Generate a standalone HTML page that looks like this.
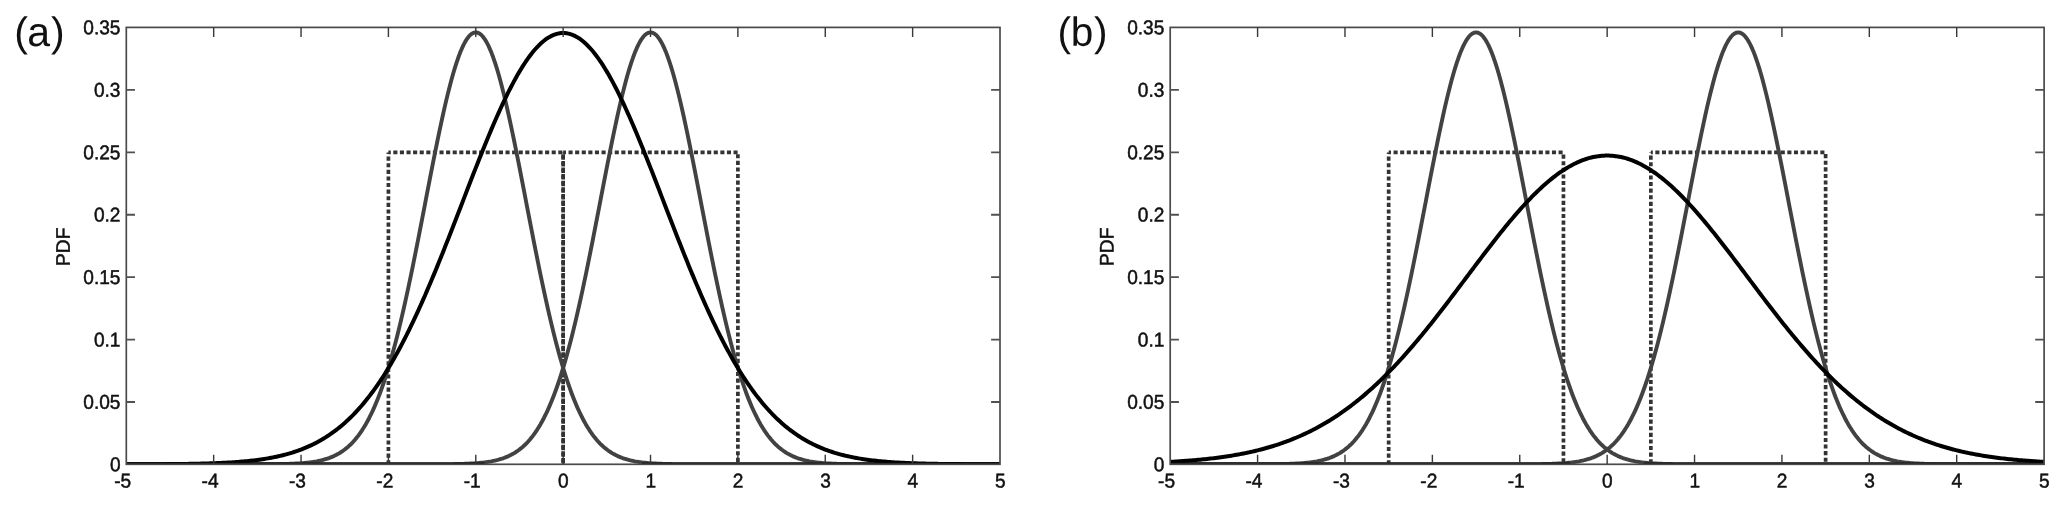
<!DOCTYPE html>
<html><head><meta charset="utf-8"><title>PDF plots</title>
<style>
html,body{margin:0;padding:0;background:#fff;}
body{width:2067px;height:506px;overflow:hidden;}
svg{display:block;will-change:transform;font-family:"Liberation Sans",sans-serif;font-size:19.9px;fill:#111;}
.t text{stroke:#111;stroke-width:0.5px;}
</style></head><body>
<svg width="2067" height="506" viewBox="0 0 2067 506">
<rect width="2067" height="506" fill="#fff"/>
<defs><clipPath id="ca"><rect x="125.6" y="22.4" width="875.1" height="442.65"/></clipPath></defs>
<g clip-path="url(#ca)">
<path d="M388.41,464.3 L388.41,152.38" fill="none" stroke="#333333" stroke-width="3.7" stroke-dasharray="4.1 2.5" stroke-dashoffset="0"/>
<path d="M388.41,152.38 L563.15,152.38" fill="none" stroke="#333333" stroke-width="3.7" stroke-dasharray="4.1 2.5" stroke-dashoffset="1.72"/>
<path d="M563.15,152.38 L563.15,464.3" fill="none" stroke="#333333" stroke-width="3.7" stroke-dasharray="4.1 2.5" stroke-dashoffset="3.26"/>
<path d="M563.15,464.3 L563.15,152.38" fill="none" stroke="#333333" stroke-width="3.7" stroke-dasharray="4.1 2.5" stroke-dashoffset="4.3"/>
<path d="M563.15,152.38 L737.89,152.38" fill="none" stroke="#333333" stroke-width="3.7" stroke-dasharray="4.1 2.5" stroke-dashoffset="1.22"/>
<path d="M737.89,152.38 L737.89,464.3" fill="none" stroke="#333333" stroke-width="3.7" stroke-dasharray="4.1 2.5" stroke-dashoffset="4.76"/>
<path d="M126.3,464.3 L128.05,464.3 L129.79,464.3 L131.54,464.3 L133.29,464.3 L135.04,464.3 L136.78,464.3 L138.53,464.3 L140.28,464.3 L142.03,464.3 L143.77,464.3 L145.52,464.3 L147.27,464.3 L149.02,464.3 L150.76,464.3 L152.51,464.3 L154.26,464.3 L156.01,464.3 L157.75,464.3 L159.5,464.3 L161.25,464.3 L163,464.3 L164.74,464.3 L166.49,464.3 L168.24,464.3 L169.99,464.3 L171.73,464.3 L173.48,464.3 L175.23,464.3 L176.97,464.3 L178.72,464.3 L180.47,464.3 L182.22,464.3 L183.96,464.3 L185.71,464.3 L187.46,464.3 L189.21,464.3 L190.95,464.3 L192.7,464.3 L194.45,464.3 L196.2,464.3 L197.94,464.3 L199.69,464.3 L201.44,464.3 L203.19,464.3 L204.93,464.3 L206.68,464.3 L208.43,464.3 L210.18,464.3 L211.92,464.3 L213.67,464.3 L215.42,464.3 L217.16,464.3 L218.91,464.3 L220.66,464.3 L222.41,464.3 L224.15,464.3 L225.9,464.3 L227.65,464.3 L229.4,464.3 L231.14,464.3 L232.89,464.3 L234.64,464.3 L236.39,464.29 L238.13,464.29 L239.88,464.29 L241.63,464.29 L243.38,464.29 L245.12,464.29 L246.87,464.29 L248.62,464.28 L250.37,464.28 L252.11,464.28 L253.86,464.27 L255.61,464.27 L257.36,464.26 L259.1,464.26 L260.85,464.25 L262.6,464.24 L264.34,464.23 L266.09,464.22 L267.84,464.21 L269.59,464.2 L271.33,464.18 L273.08,464.17 L274.83,464.15 L276.58,464.12 L278.32,464.1 L280.07,464.07 L281.82,464.03 L283.57,464 L285.31,463.95 L287.06,463.91 L288.81,463.85 L290.56,463.79 L292.3,463.72 L294.05,463.64 L295.8,463.56 L297.55,463.46 L299.29,463.35 L301.04,463.23 L302.79,463.09 L304.53,462.94 L306.28,462.77 L308.03,462.59 L309.78,462.38 L311.52,462.15 L313.27,461.89 L315.02,461.61 L316.77,461.3 L318.51,460.95 L320.26,460.57 L322.01,460.16 L323.76,459.7 L325.5,459.19 L327.25,458.64 L329,458.04 L330.75,457.38 L332.49,456.66 L334.24,455.87 L335.99,455.02 L337.74,454.09 L339.48,453.08 L341.23,451.98 L342.98,450.8 L344.73,449.52 L346.47,448.14 L348.22,446.65 L349.97,445.04 L351.71,443.32 L353.46,441.47 L355.21,439.48 L356.96,437.35 L358.7,435.08 L360.45,432.65 L362.2,430.07 L363.95,427.31 L365.69,424.38 L367.44,421.27 L369.19,417.98 L370.94,414.49 L372.68,410.8 L374.43,406.91 L376.18,402.81 L377.93,398.5 L379.67,393.97 L381.42,389.21 L383.17,384.23 L384.92,379.03 L386.66,373.59 L388.41,367.93 L390.16,362.03 L391.9,355.9 L393.65,349.54 L395.4,342.95 L397.15,336.14 L398.89,329.11 L400.64,321.87 L402.39,314.42 L404.14,306.77 L405.88,298.92 L407.63,290.89 L409.38,282.69 L411.13,274.33 L412.87,265.83 L414.62,257.19 L416.37,248.44 L418.12,239.58 L419.86,230.64 L421.61,221.64 L423.36,212.6 L425.11,203.53 L426.85,194.46 L428.6,185.4 L430.35,176.39 L432.1,167.44 L433.84,158.59 L435.59,149.84 L437.34,141.24 L439.08,132.79 L440.83,124.54 L442.58,116.49 L444.33,108.69 L446.07,101.14 L447.82,93.88 L449.57,86.92 L451.32,80.3 L453.06,74.03 L454.81,68.13 L456.56,62.62 L458.31,57.53 L460.05,52.87 L461.8,48.65 L463.55,44.89 L465.3,41.61 L467.04,38.81 L468.79,36.5 L470.54,34.7 L472.29,33.41 L474.03,32.64 L475.78,32.38 L477.53,32.64 L479.27,33.41 L481.02,34.7 L482.77,36.5 L484.52,38.81 L486.26,41.61 L488.01,44.89 L489.76,48.65 L491.51,52.87 L493.25,57.53 L495,62.62 L496.75,68.13 L498.5,74.03 L500.24,80.3 L501.99,86.92 L503.74,93.88 L505.49,101.14 L507.23,108.69 L508.98,116.49 L510.73,124.54 L512.48,132.79 L514.22,141.24 L515.97,149.84 L517.72,158.59 L519.47,167.44 L521.21,176.39 L522.96,185.4 L524.71,194.46 L526.45,203.53 L528.2,212.6 L529.95,221.64 L531.7,230.64 L533.44,239.58 L535.19,248.44 L536.94,257.19 L538.69,265.83 L540.43,274.33 L542.18,282.69 L543.93,290.89 L545.68,298.92 L547.42,306.77 L549.17,314.42 L550.92,321.87 L552.67,329.11 L554.41,336.14 L556.16,342.95 L557.91,349.54 L559.66,355.9 L561.4,362.03 L563.15,367.93 L564.9,373.59 L566.64,379.03 L568.39,384.23 L570.14,389.21 L571.89,393.97 L573.63,398.5 L575.38,402.81 L577.13,406.91 L578.88,410.8 L580.62,414.49 L582.37,417.98 L584.12,421.27 L585.87,424.38 L587.61,427.31 L589.36,430.07 L591.11,432.65 L592.86,435.08 L594.6,437.35 L596.35,439.48 L598.1,441.47 L599.85,443.32 L601.59,445.04 L603.34,446.65 L605.09,448.14 L606.84,449.52 L608.58,450.8 L610.33,451.98 L612.08,453.08 L613.82,454.09 L615.57,455.02 L617.32,455.87 L619.07,456.66 L620.81,457.38 L622.56,458.04 L624.31,458.64 L626.06,459.19 L627.8,459.7 L629.55,460.16 L631.3,460.57 L633.05,460.95 L634.79,461.3 L636.54,461.61 L638.29,461.89 L640.04,462.15 L641.78,462.38 L643.53,462.59 L645.28,462.77 L647.03,462.94 L648.77,463.09 L650.52,463.23 L652.27,463.35 L654.01,463.46 L655.76,463.56 L657.51,463.64 L659.26,463.72 L661,463.79 L662.75,463.85 L664.5,463.91 L666.25,463.95 L667.99,464 L669.74,464.03 L671.49,464.07 L673.24,464.1 L674.98,464.12 L676.73,464.15 L678.48,464.17 L680.23,464.18 L681.97,464.2 L683.72,464.21 L685.47,464.22 L687.22,464.23 L688.96,464.24 L690.71,464.25 L692.46,464.26 L694.2,464.26 L695.95,464.27 L697.7,464.27 L699.45,464.28 L701.19,464.28 L702.94,464.28 L704.69,464.29 L706.44,464.29 L708.18,464.29 L709.93,464.29 L711.68,464.29 L713.43,464.29 L715.17,464.29 L716.92,464.3 L718.67,464.3 L720.42,464.3 L722.16,464.3 L723.91,464.3 L725.66,464.3 L727.41,464.3 L729.15,464.3 L730.9,464.3 L732.65,464.3 L734.4,464.3 L736.14,464.3 L737.89,464.3 L739.64,464.3 L741.38,464.3 L743.13,464.3 L744.88,464.3 L746.63,464.3 L748.37,464.3 L750.12,464.3 L751.87,464.3 L753.62,464.3 L755.36,464.3 L757.11,464.3 L758.86,464.3 L760.61,464.3 L762.35,464.3 L764.1,464.3 L765.85,464.3 L767.6,464.3 L769.34,464.3 L771.09,464.3 L772.84,464.3 L774.59,464.3 L776.33,464.3 L778.08,464.3 L779.83,464.3 L781.58,464.3 L783.32,464.3 L785.07,464.3 L786.82,464.3 L788.56,464.3 L790.31,464.3 L792.06,464.3 L793.81,464.3 L795.55,464.3 L797.3,464.3 L799.05,464.3 L800.8,464.3 L802.54,464.3 L804.29,464.3 L806.04,464.3 L807.79,464.3 L809.53,464.3 L811.28,464.3 L813.03,464.3 L814.78,464.3 L816.52,464.3 L818.27,464.3 L820.02,464.3 L821.77,464.3 L823.51,464.3 L825.26,464.3 L827.01,464.3 L828.75,464.3 L830.5,464.3 L832.25,464.3 L834,464.3 L835.74,464.3 L837.49,464.3 L839.24,464.3 L840.99,464.3 L842.73,464.3 L844.48,464.3 L846.23,464.3 L847.98,464.3 L849.72,464.3 L851.47,464.3 L853.22,464.3 L854.97,464.3 L856.71,464.3 L858.46,464.3 L860.21,464.3 L861.96,464.3 L863.7,464.3 L865.45,464.3 L867.2,464.3 L868.94,464.3 L870.69,464.3 L872.44,464.3 L874.19,464.3 L875.93,464.3 L877.68,464.3 L879.43,464.3 L881.18,464.3 L882.92,464.3 L884.67,464.3 L886.42,464.3 L888.17,464.3 L889.91,464.3 L891.66,464.3 L893.41,464.3 L895.16,464.3 L896.9,464.3 L898.65,464.3 L900.4,464.3 L902.15,464.3 L903.89,464.3 L905.64,464.3 L907.39,464.3 L909.14,464.3 L910.88,464.3 L912.63,464.3 L914.38,464.3 L916.12,464.3 L917.87,464.3 L919.62,464.3 L921.37,464.3 L923.11,464.3 L924.86,464.3 L926.61,464.3 L928.36,464.3 L930.1,464.3 L931.85,464.3 L933.6,464.3 L935.35,464.3 L937.09,464.3 L938.84,464.3 L940.59,464.3 L942.34,464.3 L944.08,464.3 L945.83,464.3 L947.58,464.3 L949.33,464.3 L951.07,464.3 L952.82,464.3 L954.57,464.3 L956.32,464.3 L958.06,464.3 L959.81,464.3 L961.56,464.3 L963.3,464.3 L965.05,464.3 L966.8,464.3 L968.55,464.3 L970.29,464.3 L972.04,464.3 L973.79,464.3 L975.54,464.3 L977.28,464.3 L979.03,464.3 L980.78,464.3 L982.53,464.3 L984.27,464.3 L986.02,464.3 L987.77,464.3 L989.52,464.3 L991.26,464.3 L993.01,464.3 L994.76,464.3 L996.51,464.3 L998.25,464.3 L1000,464.3" fill="none" stroke="#424242" stroke-width="3.9" stroke-linejoin="round"/>
<path d="M126.3,464.3 L128.05,464.3 L129.79,464.3 L131.54,464.3 L133.29,464.3 L135.04,464.3 L136.78,464.3 L138.53,464.3 L140.28,464.3 L142.03,464.3 L143.77,464.3 L145.52,464.3 L147.27,464.3 L149.02,464.3 L150.76,464.3 L152.51,464.3 L154.26,464.3 L156.01,464.3 L157.75,464.3 L159.5,464.3 L161.25,464.3 L163,464.3 L164.74,464.3 L166.49,464.3 L168.24,464.3 L169.99,464.3 L171.73,464.3 L173.48,464.3 L175.23,464.3 L176.97,464.3 L178.72,464.3 L180.47,464.3 L182.22,464.3 L183.96,464.3 L185.71,464.3 L187.46,464.3 L189.21,464.3 L190.95,464.3 L192.7,464.3 L194.45,464.3 L196.2,464.3 L197.94,464.3 L199.69,464.3 L201.44,464.3 L203.19,464.3 L204.93,464.3 L206.68,464.3 L208.43,464.3 L210.18,464.3 L211.92,464.3 L213.67,464.3 L215.42,464.3 L217.16,464.3 L218.91,464.3 L220.66,464.3 L222.41,464.3 L224.15,464.3 L225.9,464.3 L227.65,464.3 L229.4,464.3 L231.14,464.3 L232.89,464.3 L234.64,464.3 L236.39,464.3 L238.13,464.3 L239.88,464.3 L241.63,464.3 L243.38,464.3 L245.12,464.3 L246.87,464.3 L248.62,464.3 L250.37,464.3 L252.11,464.3 L253.86,464.3 L255.61,464.3 L257.36,464.3 L259.1,464.3 L260.85,464.3 L262.6,464.3 L264.34,464.3 L266.09,464.3 L267.84,464.3 L269.59,464.3 L271.33,464.3 L273.08,464.3 L274.83,464.3 L276.58,464.3 L278.32,464.3 L280.07,464.3 L281.82,464.3 L283.57,464.3 L285.31,464.3 L287.06,464.3 L288.81,464.3 L290.56,464.3 L292.3,464.3 L294.05,464.3 L295.8,464.3 L297.55,464.3 L299.29,464.3 L301.04,464.3 L302.79,464.3 L304.53,464.3 L306.28,464.3 L308.03,464.3 L309.78,464.3 L311.52,464.3 L313.27,464.3 L315.02,464.3 L316.77,464.3 L318.51,464.3 L320.26,464.3 L322.01,464.3 L323.76,464.3 L325.5,464.3 L327.25,464.3 L329,464.3 L330.75,464.3 L332.49,464.3 L334.24,464.3 L335.99,464.3 L337.74,464.3 L339.48,464.3 L341.23,464.3 L342.98,464.3 L344.73,464.3 L346.47,464.3 L348.22,464.3 L349.97,464.3 L351.71,464.3 L353.46,464.3 L355.21,464.3 L356.96,464.3 L358.7,464.3 L360.45,464.3 L362.2,464.3 L363.95,464.3 L365.69,464.3 L367.44,464.3 L369.19,464.3 L370.94,464.3 L372.68,464.3 L374.43,464.3 L376.18,464.3 L377.93,464.3 L379.67,464.3 L381.42,464.3 L383.17,464.3 L384.92,464.3 L386.66,464.3 L388.41,464.3 L390.16,464.3 L391.9,464.3 L393.65,464.3 L395.4,464.3 L397.15,464.3 L398.89,464.3 L400.64,464.3 L402.39,464.3 L404.14,464.3 L405.88,464.3 L407.63,464.3 L409.38,464.3 L411.13,464.29 L412.87,464.29 L414.62,464.29 L416.37,464.29 L418.12,464.29 L419.86,464.29 L421.61,464.29 L423.36,464.28 L425.11,464.28 L426.85,464.28 L428.6,464.27 L430.35,464.27 L432.1,464.26 L433.84,464.26 L435.59,464.25 L437.34,464.24 L439.08,464.23 L440.83,464.22 L442.58,464.21 L444.33,464.2 L446.07,464.18 L447.82,464.17 L449.57,464.15 L451.32,464.12 L453.06,464.1 L454.81,464.07 L456.56,464.03 L458.31,464 L460.05,463.95 L461.8,463.91 L463.55,463.85 L465.3,463.79 L467.04,463.72 L468.79,463.64 L470.54,463.56 L472.29,463.46 L474.03,463.35 L475.78,463.23 L477.53,463.09 L479.27,462.94 L481.02,462.77 L482.77,462.59 L484.52,462.38 L486.26,462.15 L488.01,461.89 L489.76,461.61 L491.51,461.3 L493.25,460.95 L495,460.57 L496.75,460.16 L498.5,459.7 L500.24,459.19 L501.99,458.64 L503.74,458.04 L505.49,457.38 L507.23,456.66 L508.98,455.87 L510.73,455.02 L512.48,454.09 L514.22,453.08 L515.97,451.98 L517.72,450.8 L519.47,449.52 L521.21,448.14 L522.96,446.65 L524.71,445.04 L526.45,443.32 L528.2,441.47 L529.95,439.48 L531.7,437.35 L533.44,435.08 L535.19,432.65 L536.94,430.07 L538.69,427.31 L540.43,424.38 L542.18,421.27 L543.93,417.98 L545.68,414.49 L547.42,410.8 L549.17,406.91 L550.92,402.81 L552.67,398.5 L554.41,393.97 L556.16,389.21 L557.91,384.23 L559.66,379.03 L561.4,373.59 L563.15,367.93 L564.9,362.03 L566.64,355.9 L568.39,349.54 L570.14,342.95 L571.89,336.14 L573.63,329.11 L575.38,321.87 L577.13,314.42 L578.88,306.77 L580.62,298.92 L582.37,290.89 L584.12,282.69 L585.87,274.33 L587.61,265.83 L589.36,257.19 L591.11,248.44 L592.86,239.58 L594.6,230.64 L596.35,221.64 L598.1,212.6 L599.85,203.53 L601.59,194.46 L603.34,185.4 L605.09,176.39 L606.84,167.44 L608.58,158.59 L610.33,149.84 L612.08,141.24 L613.82,132.79 L615.57,124.54 L617.32,116.49 L619.07,108.69 L620.81,101.14 L622.56,93.88 L624.31,86.92 L626.06,80.3 L627.8,74.03 L629.55,68.13 L631.3,62.62 L633.05,57.53 L634.79,52.87 L636.54,48.65 L638.29,44.89 L640.04,41.61 L641.78,38.81 L643.53,36.5 L645.28,34.7 L647.03,33.41 L648.77,32.64 L650.52,32.38 L652.27,32.64 L654.01,33.41 L655.76,34.7 L657.51,36.5 L659.26,38.81 L661,41.61 L662.75,44.89 L664.5,48.65 L666.25,52.87 L667.99,57.53 L669.74,62.62 L671.49,68.13 L673.24,74.03 L674.98,80.3 L676.73,86.92 L678.48,93.88 L680.23,101.14 L681.97,108.69 L683.72,116.49 L685.47,124.54 L687.22,132.79 L688.96,141.24 L690.71,149.84 L692.46,158.59 L694.2,167.44 L695.95,176.39 L697.7,185.4 L699.45,194.46 L701.19,203.53 L702.94,212.6 L704.69,221.64 L706.44,230.64 L708.18,239.58 L709.93,248.44 L711.68,257.19 L713.43,265.83 L715.17,274.33 L716.92,282.69 L718.67,290.89 L720.42,298.92 L722.16,306.77 L723.91,314.42 L725.66,321.87 L727.41,329.11 L729.15,336.14 L730.9,342.95 L732.65,349.54 L734.4,355.9 L736.14,362.03 L737.89,367.93 L739.64,373.59 L741.38,379.03 L743.13,384.23 L744.88,389.21 L746.63,393.97 L748.37,398.5 L750.12,402.81 L751.87,406.91 L753.62,410.8 L755.36,414.49 L757.11,417.98 L758.86,421.27 L760.61,424.38 L762.35,427.31 L764.1,430.07 L765.85,432.65 L767.6,435.08 L769.34,437.35 L771.09,439.48 L772.84,441.47 L774.59,443.32 L776.33,445.04 L778.08,446.65 L779.83,448.14 L781.58,449.52 L783.32,450.8 L785.07,451.98 L786.82,453.08 L788.56,454.09 L790.31,455.02 L792.06,455.87 L793.81,456.66 L795.55,457.38 L797.3,458.04 L799.05,458.64 L800.8,459.19 L802.54,459.7 L804.29,460.16 L806.04,460.57 L807.79,460.95 L809.53,461.3 L811.28,461.61 L813.03,461.89 L814.78,462.15 L816.52,462.38 L818.27,462.59 L820.02,462.77 L821.77,462.94 L823.51,463.09 L825.26,463.23 L827.01,463.35 L828.75,463.46 L830.5,463.56 L832.25,463.64 L834,463.72 L835.74,463.79 L837.49,463.85 L839.24,463.91 L840.99,463.95 L842.73,464 L844.48,464.03 L846.23,464.07 L847.98,464.1 L849.72,464.12 L851.47,464.15 L853.22,464.17 L854.97,464.18 L856.71,464.2 L858.46,464.21 L860.21,464.22 L861.96,464.23 L863.7,464.24 L865.45,464.25 L867.2,464.26 L868.94,464.26 L870.69,464.27 L872.44,464.27 L874.19,464.28 L875.93,464.28 L877.68,464.28 L879.43,464.29 L881.18,464.29 L882.92,464.29 L884.67,464.29 L886.42,464.29 L888.17,464.29 L889.91,464.29 L891.66,464.3 L893.41,464.3 L895.16,464.3 L896.9,464.3 L898.65,464.3 L900.4,464.3 L902.15,464.3 L903.89,464.3 L905.64,464.3 L907.39,464.3 L909.14,464.3 L910.88,464.3 L912.63,464.3 L914.38,464.3 L916.12,464.3 L917.87,464.3 L919.62,464.3 L921.37,464.3 L923.11,464.3 L924.86,464.3 L926.61,464.3 L928.36,464.3 L930.1,464.3 L931.85,464.3 L933.6,464.3 L935.35,464.3 L937.09,464.3 L938.84,464.3 L940.59,464.3 L942.34,464.3 L944.08,464.3 L945.83,464.3 L947.58,464.3 L949.33,464.3 L951.07,464.3 L952.82,464.3 L954.57,464.3 L956.32,464.3 L958.06,464.3 L959.81,464.3 L961.56,464.3 L963.3,464.3 L965.05,464.3 L966.8,464.3 L968.55,464.3 L970.29,464.3 L972.04,464.3 L973.79,464.3 L975.54,464.3 L977.28,464.3 L979.03,464.3 L980.78,464.3 L982.53,464.3 L984.27,464.3 L986.02,464.3 L987.77,464.3 L989.52,464.3 L991.26,464.3 L993.01,464.3 L994.76,464.3 L996.51,464.3 L998.25,464.3 L1000,464.3" fill="none" stroke="#424242" stroke-width="3.9" stroke-linejoin="round"/>
<path d="M126.3,464.26 L128.05,464.26 L129.79,464.26 L131.54,464.25 L133.29,464.25 L135.04,464.25 L136.78,464.24 L138.53,464.24 L140.28,464.23 L142.03,464.23 L143.77,464.22 L145.52,464.22 L147.27,464.21 L149.02,464.21 L150.76,464.2 L152.51,464.19 L154.26,464.18 L156.01,464.17 L157.75,464.17 L159.5,464.16 L161.25,464.15 L163,464.13 L164.74,464.12 L166.49,464.11 L168.24,464.1 L169.99,464.08 L171.73,464.07 L173.48,464.05 L175.23,464.03 L176.97,464.02 L178.72,464 L180.47,463.98 L182.22,463.95 L183.96,463.93 L185.71,463.91 L187.46,463.88 L189.21,463.85 L190.95,463.82 L192.7,463.79 L194.45,463.76 L196.2,463.72 L197.94,463.68 L199.69,463.64 L201.44,463.6 L203.19,463.56 L204.93,463.51 L206.68,463.46 L208.43,463.41 L210.18,463.35 L211.92,463.29 L213.67,463.23 L215.42,463.17 L217.16,463.1 L218.91,463.02 L220.66,462.94 L222.41,462.86 L224.15,462.78 L225.9,462.68 L227.65,462.59 L229.4,462.49 L231.14,462.38 L232.89,462.27 L234.64,462.15 L236.39,462.03 L238.13,461.9 L239.88,461.76 L241.63,461.61 L243.38,461.46 L245.12,461.3 L246.87,461.13 L248.62,460.96 L250.37,460.77 L252.11,460.58 L253.86,460.37 L255.61,460.16 L257.36,459.94 L259.1,459.7 L260.85,459.46 L262.6,459.2 L264.34,458.93 L266.09,458.65 L267.84,458.35 L269.59,458.05 L271.33,457.72 L273.08,457.39 L274.83,457.04 L276.58,456.67 L278.32,456.28 L280.07,455.88 L281.82,455.47 L283.57,455.03 L285.31,454.58 L287.06,454.1 L288.81,453.61 L290.56,453.1 L292.3,452.56 L294.05,452 L295.8,451.42 L297.55,450.82 L299.29,450.19 L301.04,449.54 L302.79,448.87 L304.53,448.16 L306.28,447.43 L308.03,446.67 L309.78,445.89 L311.52,445.07 L313.27,444.23 L315.02,443.35 L316.77,442.44 L318.51,441.5 L320.26,440.53 L322.01,439.52 L323.76,438.47 L325.5,437.39 L327.25,436.28 L329,435.12 L330.75,433.93 L332.49,432.7 L334.24,431.43 L335.99,430.12 L337.74,428.76 L339.48,427.37 L341.23,425.93 L342.98,424.44 L344.73,422.91 L346.47,421.34 L348.22,419.72 L349.97,418.05 L351.71,416.33 L353.46,414.56 L355.21,412.75 L356.96,410.88 L358.7,408.97 L360.45,407 L362.2,404.98 L363.95,402.9 L365.69,400.78 L367.44,398.6 L369.19,396.36 L370.94,394.07 L372.68,391.73 L374.43,389.33 L376.18,386.87 L377.93,384.35 L379.67,381.78 L381.42,379.16 L383.17,376.47 L384.92,373.73 L386.66,370.93 L388.41,368.07 L390.16,365.15 L391.9,362.18 L393.65,359.15 L395.4,356.06 L397.15,352.91 L398.89,349.71 L400.64,346.45 L402.39,343.14 L404.14,339.76 L405.88,336.34 L407.63,332.85 L409.38,329.32 L411.13,325.73 L412.87,322.08 L414.62,318.39 L416.37,314.64 L418.12,310.85 L419.86,307 L421.61,303.11 L423.36,299.17 L425.11,295.18 L426.85,291.15 L428.6,287.08 L430.35,282.96 L432.1,278.81 L433.84,274.62 L435.59,270.39 L437.34,266.13 L439.08,261.83 L440.83,257.5 L442.58,253.14 L444.33,248.76 L446.07,244.35 L447.82,239.92 L449.57,235.47 L451.32,230.99 L453.06,226.51 L454.81,222.01 L456.56,217.5 L458.31,212.98 L460.05,208.45 L461.8,203.92 L463.55,199.39 L465.3,194.86 L467.04,190.34 L468.79,185.82 L470.54,181.31 L472.29,176.82 L474.03,172.35 L475.78,167.89 L477.53,163.45 L479.27,159.05 L481.02,154.66 L482.77,150.31 L484.52,146 L486.26,141.72 L488.01,137.48 L489.76,133.29 L491.51,129.14 L493.25,125.05 L495,121 L496.75,117.01 L498.5,113.09 L500.24,109.22 L501.99,105.42 L503.74,101.68 L505.49,98.02 L507.23,94.43 L508.98,90.92 L510.73,87.49 L512.48,84.14 L514.22,80.87 L515.97,77.7 L517.72,74.61 L519.47,71.62 L521.21,68.72 L522.96,65.92 L524.71,63.23 L526.45,60.63 L528.2,58.14 L529.95,55.76 L531.7,53.48 L533.44,51.32 L535.19,49.27 L536.94,47.34 L538.69,45.52 L540.43,43.82 L542.18,42.24 L543.93,40.78 L545.68,39.45 L547.42,38.23 L549.17,37.15 L550.92,36.18 L552.67,35.35 L554.41,34.64 L556.16,34.06 L557.91,33.61 L559.66,33.28 L561.4,33.09 L563.15,33.02 L564.9,33.09 L566.64,33.28 L568.39,33.61 L570.14,34.06 L571.89,34.64 L573.63,35.35 L575.38,36.18 L577.13,37.15 L578.88,38.23 L580.62,39.45 L582.37,40.78 L584.12,42.24 L585.87,43.82 L587.61,45.52 L589.36,47.34 L591.11,49.27 L592.86,51.32 L594.6,53.48 L596.35,55.76 L598.1,58.14 L599.85,60.63 L601.59,63.23 L603.34,65.92 L605.09,68.72 L606.84,71.62 L608.58,74.61 L610.33,77.7 L612.08,80.87 L613.82,84.14 L615.57,87.49 L617.32,90.92 L619.07,94.43 L620.81,98.02 L622.56,101.68 L624.31,105.42 L626.06,109.22 L627.8,113.09 L629.55,117.01 L631.3,121 L633.05,125.05 L634.79,129.14 L636.54,133.29 L638.29,137.48 L640.04,141.72 L641.78,146 L643.53,150.31 L645.28,154.66 L647.03,159.05 L648.77,163.45 L650.52,167.89 L652.27,172.35 L654.01,176.82 L655.76,181.31 L657.51,185.82 L659.26,190.34 L661,194.86 L662.75,199.39 L664.5,203.92 L666.25,208.45 L667.99,212.98 L669.74,217.5 L671.49,222.01 L673.24,226.51 L674.98,230.99 L676.73,235.47 L678.48,239.92 L680.23,244.35 L681.97,248.76 L683.72,253.14 L685.47,257.5 L687.22,261.83 L688.96,266.13 L690.71,270.39 L692.46,274.62 L694.2,278.81 L695.95,282.96 L697.7,287.08 L699.45,291.15 L701.19,295.18 L702.94,299.17 L704.69,303.11 L706.44,307 L708.18,310.85 L709.93,314.64 L711.68,318.39 L713.43,322.08 L715.17,325.73 L716.92,329.32 L718.67,332.85 L720.42,336.34 L722.16,339.76 L723.91,343.14 L725.66,346.45 L727.41,349.71 L729.15,352.91 L730.9,356.06 L732.65,359.15 L734.4,362.18 L736.14,365.15 L737.89,368.07 L739.64,370.93 L741.38,373.73 L743.13,376.47 L744.88,379.16 L746.63,381.78 L748.37,384.35 L750.12,386.87 L751.87,389.33 L753.62,391.73 L755.36,394.07 L757.11,396.36 L758.86,398.6 L760.61,400.78 L762.35,402.9 L764.1,404.98 L765.85,407 L767.6,408.97 L769.34,410.88 L771.09,412.75 L772.84,414.56 L774.59,416.33 L776.33,418.05 L778.08,419.72 L779.83,421.34 L781.58,422.91 L783.32,424.44 L785.07,425.93 L786.82,427.37 L788.56,428.76 L790.31,430.12 L792.06,431.43 L793.81,432.7 L795.55,433.93 L797.3,435.12 L799.05,436.28 L800.8,437.39 L802.54,438.47 L804.29,439.52 L806.04,440.53 L807.79,441.5 L809.53,442.44 L811.28,443.35 L813.03,444.23 L814.78,445.07 L816.52,445.89 L818.27,446.67 L820.02,447.43 L821.77,448.16 L823.51,448.87 L825.26,449.54 L827.01,450.19 L828.75,450.82 L830.5,451.42 L832.25,452 L834,452.56 L835.74,453.1 L837.49,453.61 L839.24,454.1 L840.99,454.58 L842.73,455.03 L844.48,455.47 L846.23,455.88 L847.98,456.28 L849.72,456.67 L851.47,457.04 L853.22,457.39 L854.97,457.72 L856.71,458.05 L858.46,458.35 L860.21,458.65 L861.96,458.93 L863.7,459.2 L865.45,459.46 L867.2,459.7 L868.94,459.94 L870.69,460.16 L872.44,460.37 L874.19,460.58 L875.93,460.77 L877.68,460.96 L879.43,461.13 L881.18,461.3 L882.92,461.46 L884.67,461.61 L886.42,461.76 L888.17,461.9 L889.91,462.03 L891.66,462.15 L893.41,462.27 L895.16,462.38 L896.9,462.49 L898.65,462.59 L900.4,462.68 L902.15,462.78 L903.89,462.86 L905.64,462.94 L907.39,463.02 L909.14,463.1 L910.88,463.17 L912.63,463.23 L914.38,463.29 L916.12,463.35 L917.87,463.41 L919.62,463.46 L921.37,463.51 L923.11,463.56 L924.86,463.6 L926.61,463.64 L928.36,463.68 L930.1,463.72 L931.85,463.76 L933.6,463.79 L935.35,463.82 L937.09,463.85 L938.84,463.88 L940.59,463.91 L942.34,463.93 L944.08,463.95 L945.83,463.98 L947.58,464 L949.33,464.02 L951.07,464.03 L952.82,464.05 L954.57,464.07 L956.32,464.08 L958.06,464.1 L959.81,464.11 L961.56,464.12 L963.3,464.13 L965.05,464.15 L966.8,464.16 L968.55,464.17 L970.29,464.17 L972.04,464.18 L973.79,464.19 L975.54,464.2 L977.28,464.21 L979.03,464.21 L980.78,464.22 L982.53,464.22 L984.27,464.23 L986.02,464.23 L987.77,464.24 L989.52,464.24 L991.26,464.25 L993.01,464.25 L994.76,464.25 L996.51,464.26 L998.25,464.26 L1000,464.26" fill="none" stroke="#000" stroke-width="4.0" stroke-linejoin="round"/>
<path d="M126.3,463.8 H484.52 M641.78,463.8 H1000" fill="none" stroke="#111111" stroke-width="2.4"/>
</g>
<rect x="126.3" y="27.4" width="873.7" height="436.9" fill="none" stroke="#4a4a4a" stroke-width="1.7"/>
<path d="M213.67,464.3 v-9.5 M213.67,27.4 v9.5 M301.04,464.3 v-9.5 M301.04,27.4 v9.5 M388.41,464.3 v-9.5 M388.41,27.4 v9.5 M475.78,464.3 v-9.5 M475.78,27.4 v9.5 M563.15,464.3 v-9.5 M563.15,27.4 v9.5 M650.52,464.3 v-9.5 M650.52,27.4 v9.5 M737.89,464.3 v-9.5 M737.89,27.4 v9.5 M825.26,464.3 v-9.5 M825.26,27.4 v9.5 M912.63,464.3 v-9.5 M912.63,27.4 v9.5" stroke="#383838" stroke-width="1.4" fill="none"/>
<path d="M126.3,401.99 h8.7 M1000,401.99 h-8.9 M126.3,339.57 h8.7 M1000,339.57 h-8.9 M126.3,277.16 h8.7 M1000,277.16 h-8.9 M126.3,214.74 h8.7 M1000,214.74 h-8.9 M126.3,152.33 h8.7 M1000,152.33 h-8.9 M126.3,89.91 h8.7 M1000,89.91 h-8.9" stroke="#505050" stroke-width="1.8" fill="none"/>
<g class="t">
<text transform="translate(122.7,487.4) rotate(0.03) scale(0.96,1)" text-anchor="middle">-5</text>
<text transform="translate(210.07,487.4) rotate(0.03) scale(0.96,1)" text-anchor="middle">-4</text>
<text transform="translate(297.44,487.4) rotate(0.03) scale(0.96,1)" text-anchor="middle">-3</text>
<text transform="translate(384.81,487.4) rotate(0.03) scale(0.96,1)" text-anchor="middle">-2</text>
<text transform="translate(472.18,487.4) rotate(0.03) scale(0.96,1)" text-anchor="middle">-1</text>
<text transform="translate(563.35,487.4) rotate(0.03) scale(0.96,1)" text-anchor="middle">0</text>
<text transform="translate(650.72,487.4) rotate(0.03) scale(0.96,1)" text-anchor="middle">1</text>
<text transform="translate(738.09,487.4) rotate(0.03) scale(0.96,1)" text-anchor="middle">2</text>
<text transform="translate(825.46,487.4) rotate(0.03) scale(0.96,1)" text-anchor="middle">3</text>
<text transform="translate(912.83,487.4) rotate(0.03) scale(0.96,1)" text-anchor="middle">4</text>
<text transform="translate(1000.2,487.4) rotate(0.03) scale(0.96,1)" text-anchor="middle">5</text>
<text transform="translate(120.55,471.25) rotate(0.03) scale(0.96,1)" text-anchor="end">0</text>
<text transform="translate(120.45,408.84) rotate(0.03) scale(0.96,1)" text-anchor="end">0.05</text>
<text transform="translate(120.45,346.42) rotate(0.03) scale(0.96,1)" text-anchor="end">0.1</text>
<text transform="translate(120.45,284.01) rotate(0.03) scale(0.96,1)" text-anchor="end">0.15</text>
<text transform="translate(120.45,221.59) rotate(0.03) scale(0.96,1)" text-anchor="end">0.2</text>
<text transform="translate(120.45,159.18) rotate(0.03) scale(0.96,1)" text-anchor="end">0.25</text>
<text transform="translate(120.45,96.76) rotate(0.03) scale(0.96,1)" text-anchor="end">0.3</text>
<text transform="translate(120.45,34.35) rotate(0.03) scale(0.96,1)" text-anchor="end">0.35</text>
<text transform="translate(69.7,246.75) rotate(-89.97) scale(0.978,1)" text-anchor="middle" font-size="19.6">PDF</text>
<text transform="translate(14.2,45.9) rotate(0.03)" font-size="41" style="stroke:none">(</text>
<text transform="translate(27.3,45.9) rotate(0.03)" font-size="41" style="stroke:none">a</text>
<text transform="translate(51,45.9) rotate(0.03)" font-size="41" style="stroke:none">)</text>
</g>
<defs><clipPath id="cb"><rect x="1169.5" y="22.4" width="875.3" height="442.65"/></clipPath></defs>
<g clip-path="url(#cb)">
<path d="M1388.67,464.3 L1388.67,152.38" fill="none" stroke="#333333" stroke-width="3.7" stroke-dasharray="4.1 2.5" stroke-dashoffset="0"/>
<path d="M1388.67,152.38 L1563.45,152.38" fill="none" stroke="#333333" stroke-width="3.7" stroke-dasharray="4.1 2.5" stroke-dashoffset="1.72"/>
<path d="M1563.45,152.38 L1563.45,464.3" fill="none" stroke="#333333" stroke-width="3.7" stroke-dasharray="4.1 2.5" stroke-dashoffset="4.4"/>
<path d="M1650.85,464.3 L1650.85,152.38" fill="none" stroke="#333333" stroke-width="3.7" stroke-dasharray="4.1 2.5" stroke-dashoffset="5.6"/>
<path d="M1650.85,152.38 L1825.62,152.38" fill="none" stroke="#333333" stroke-width="3.7" stroke-dasharray="4.1 2.5" stroke-dashoffset="2.12"/>
<path d="M1825.62,152.38 L1825.62,464.3" fill="none" stroke="#333333" stroke-width="3.7" stroke-dasharray="4.1 2.5" stroke-dashoffset="4.9"/>
<path d="M1170.2,464.3 L1171.95,464.3 L1173.7,464.3 L1175.44,464.3 L1177.19,464.3 L1178.94,464.3 L1180.69,464.3 L1182.43,464.3 L1184.18,464.3 L1185.93,464.3 L1187.68,464.3 L1189.43,464.3 L1191.17,464.3 L1192.92,464.3 L1194.67,464.3 L1196.42,464.3 L1198.16,464.3 L1199.91,464.3 L1201.66,464.3 L1203.41,464.3 L1205.16,464.3 L1206.9,464.3 L1208.65,464.3 L1210.4,464.3 L1212.15,464.3 L1213.89,464.3 L1215.64,464.3 L1217.39,464.3 L1219.14,464.3 L1220.89,464.3 L1222.63,464.3 L1224.38,464.3 L1226.13,464.3 L1227.88,464.3 L1229.63,464.3 L1231.37,464.3 L1233.12,464.3 L1234.87,464.3 L1236.62,464.29 L1238.36,464.29 L1240.11,464.29 L1241.86,464.29 L1243.61,464.29 L1245.36,464.29 L1247.1,464.29 L1248.85,464.28 L1250.6,464.28 L1252.35,464.28 L1254.09,464.27 L1255.84,464.27 L1257.59,464.26 L1259.34,464.26 L1261.09,464.25 L1262.83,464.24 L1264.58,464.23 L1266.33,464.22 L1268.08,464.21 L1269.82,464.2 L1271.57,464.18 L1273.32,464.17 L1275.07,464.15 L1276.82,464.12 L1278.56,464.1 L1280.31,464.07 L1282.06,464.03 L1283.81,464 L1285.55,463.95 L1287.3,463.91 L1289.05,463.85 L1290.8,463.79 L1292.55,463.72 L1294.29,463.64 L1296.04,463.56 L1297.79,463.46 L1299.54,463.35 L1301.29,463.23 L1303.03,463.09 L1304.78,462.94 L1306.53,462.77 L1308.28,462.59 L1310.02,462.38 L1311.77,462.15 L1313.52,461.89 L1315.27,461.61 L1317.02,461.3 L1318.76,460.95 L1320.51,460.57 L1322.26,460.16 L1324.01,459.7 L1325.75,459.19 L1327.5,458.64 L1329.25,458.04 L1331,457.38 L1332.75,456.66 L1334.49,455.87 L1336.24,455.02 L1337.99,454.09 L1339.74,453.08 L1341.48,451.98 L1343.23,450.8 L1344.98,449.52 L1346.73,448.14 L1348.48,446.65 L1350.22,445.04 L1351.97,443.32 L1353.72,441.47 L1355.47,439.48 L1357.21,437.35 L1358.96,435.08 L1360.71,432.65 L1362.46,430.07 L1364.21,427.31 L1365.95,424.38 L1367.7,421.27 L1369.45,417.98 L1371.2,414.49 L1372.94,410.8 L1374.69,406.91 L1376.44,402.81 L1378.19,398.5 L1379.94,393.97 L1381.68,389.21 L1383.43,384.23 L1385.18,379.03 L1386.93,373.59 L1388.67,367.93 L1390.42,362.03 L1392.17,355.9 L1393.92,349.54 L1395.67,342.95 L1397.41,336.14 L1399.16,329.11 L1400.91,321.87 L1402.66,314.42 L1404.41,306.77 L1406.15,298.92 L1407.9,290.89 L1409.65,282.69 L1411.4,274.33 L1413.14,265.83 L1414.89,257.19 L1416.64,248.44 L1418.39,239.58 L1420.14,230.64 L1421.88,221.64 L1423.63,212.6 L1425.38,203.53 L1427.13,194.46 L1428.87,185.4 L1430.62,176.39 L1432.37,167.44 L1434.12,158.59 L1435.87,149.84 L1437.61,141.24 L1439.36,132.79 L1441.11,124.54 L1442.86,116.49 L1444.6,108.69 L1446.35,101.14 L1448.1,93.88 L1449.85,86.92 L1451.6,80.3 L1453.34,74.03 L1455.09,68.13 L1456.84,62.62 L1458.59,57.53 L1460.33,52.87 L1462.08,48.65 L1463.83,44.89 L1465.58,41.61 L1467.33,38.81 L1469.07,36.5 L1470.82,34.7 L1472.57,33.41 L1474.32,32.64 L1476.07,32.38 L1477.81,32.64 L1479.56,33.41 L1481.31,34.7 L1483.06,36.5 L1484.8,38.81 L1486.55,41.61 L1488.3,44.89 L1490.05,48.65 L1491.8,52.87 L1493.54,57.53 L1495.29,62.62 L1497.04,68.13 L1498.79,74.03 L1500.53,80.3 L1502.28,86.92 L1504.03,93.88 L1505.78,101.14 L1507.53,108.69 L1509.27,116.49 L1511.02,124.54 L1512.77,132.79 L1514.52,141.24 L1516.26,149.84 L1518.01,158.59 L1519.76,167.44 L1521.51,176.39 L1523.26,185.4 L1525,194.46 L1526.75,203.53 L1528.5,212.6 L1530.25,221.64 L1531.99,230.64 L1533.74,239.58 L1535.49,248.44 L1537.24,257.19 L1538.99,265.83 L1540.73,274.33 L1542.48,282.69 L1544.23,290.89 L1545.98,298.92 L1547.72,306.77 L1549.47,314.42 L1551.22,321.87 L1552.97,329.11 L1554.72,336.14 L1556.46,342.95 L1558.21,349.54 L1559.96,355.9 L1561.71,362.03 L1563.45,367.93 L1565.2,373.59 L1566.95,379.03 L1568.7,384.23 L1570.45,389.21 L1572.19,393.97 L1573.94,398.5 L1575.69,402.81 L1577.44,406.91 L1579.19,410.8 L1580.93,414.49 L1582.68,417.98 L1584.43,421.27 L1586.18,424.38 L1587.92,427.31 L1589.67,430.07 L1591.42,432.65 L1593.17,435.08 L1594.92,437.35 L1596.66,439.48 L1598.41,441.47 L1600.16,443.32 L1601.91,445.04 L1603.65,446.65 L1605.4,448.14 L1607.15,449.52 L1608.9,450.8 L1610.65,451.98 L1612.39,453.08 L1614.14,454.09 L1615.89,455.02 L1617.64,455.87 L1619.38,456.66 L1621.13,457.38 L1622.88,458.04 L1624.63,458.64 L1626.38,459.19 L1628.12,459.7 L1629.87,460.16 L1631.62,460.57 L1633.37,460.95 L1635.11,461.3 L1636.86,461.61 L1638.61,461.89 L1640.36,462.15 L1642.11,462.38 L1643.85,462.59 L1645.6,462.77 L1647.35,462.94 L1649.1,463.09 L1650.85,463.23 L1652.59,463.35 L1654.34,463.46 L1656.09,463.56 L1657.84,463.64 L1659.58,463.72 L1661.33,463.79 L1663.08,463.85 L1664.83,463.91 L1666.58,463.95 L1668.32,464 L1670.07,464.03 L1671.82,464.07 L1673.57,464.1 L1675.31,464.12 L1677.06,464.15 L1678.81,464.17 L1680.56,464.18 L1682.31,464.2 L1684.05,464.21 L1685.8,464.22 L1687.55,464.23 L1689.3,464.24 L1691.04,464.25 L1692.79,464.26 L1694.54,464.26 L1696.29,464.27 L1698.04,464.27 L1699.78,464.28 L1701.53,464.28 L1703.28,464.28 L1705.03,464.29 L1706.77,464.29 L1708.52,464.29 L1710.27,464.29 L1712.02,464.29 L1713.77,464.29 L1715.51,464.29 L1717.26,464.3 L1719.01,464.3 L1720.76,464.3 L1722.5,464.3 L1724.25,464.3 L1726,464.3 L1727.75,464.3 L1729.5,464.3 L1731.24,464.3 L1732.99,464.3 L1734.74,464.3 L1736.49,464.3 L1738.23,464.3 L1739.98,464.3 L1741.73,464.3 L1743.48,464.3 L1745.23,464.3 L1746.97,464.3 L1748.72,464.3 L1750.47,464.3 L1752.22,464.3 L1753.97,464.3 L1755.71,464.3 L1757.46,464.3 L1759.21,464.3 L1760.96,464.3 L1762.7,464.3 L1764.45,464.3 L1766.2,464.3 L1767.95,464.3 L1769.7,464.3 L1771.44,464.3 L1773.19,464.3 L1774.94,464.3 L1776.69,464.3 L1778.43,464.3 L1780.18,464.3 L1781.93,464.3 L1783.68,464.3 L1785.43,464.3 L1787.17,464.3 L1788.92,464.3 L1790.67,464.3 L1792.42,464.3 L1794.16,464.3 L1795.91,464.3 L1797.66,464.3 L1799.41,464.3 L1801.16,464.3 L1802.9,464.3 L1804.65,464.3 L1806.4,464.3 L1808.15,464.3 L1809.89,464.3 L1811.64,464.3 L1813.39,464.3 L1815.14,464.3 L1816.89,464.3 L1818.63,464.3 L1820.38,464.3 L1822.13,464.3 L1823.88,464.3 L1825.62,464.3 L1827.37,464.3 L1829.12,464.3 L1830.87,464.3 L1832.62,464.3 L1834.36,464.3 L1836.11,464.3 L1837.86,464.3 L1839.61,464.3 L1841.36,464.3 L1843.1,464.3 L1844.85,464.3 L1846.6,464.3 L1848.35,464.3 L1850.09,464.3 L1851.84,464.3 L1853.59,464.3 L1855.34,464.3 L1857.09,464.3 L1858.83,464.3 L1860.58,464.3 L1862.33,464.3 L1864.08,464.3 L1865.82,464.3 L1867.57,464.3 L1869.32,464.3 L1871.07,464.3 L1872.82,464.3 L1874.56,464.3 L1876.31,464.3 L1878.06,464.3 L1879.81,464.3 L1881.55,464.3 L1883.3,464.3 L1885.05,464.3 L1886.8,464.3 L1888.55,464.3 L1890.29,464.3 L1892.04,464.3 L1893.79,464.3 L1895.54,464.3 L1897.28,464.3 L1899.03,464.3 L1900.78,464.3 L1902.53,464.3 L1904.28,464.3 L1906.02,464.3 L1907.77,464.3 L1909.52,464.3 L1911.27,464.3 L1913.01,464.3 L1914.76,464.3 L1916.51,464.3 L1918.26,464.3 L1920.01,464.3 L1921.75,464.3 L1923.5,464.3 L1925.25,464.3 L1927,464.3 L1928.75,464.3 L1930.49,464.3 L1932.24,464.3 L1933.99,464.3 L1935.74,464.3 L1937.48,464.3 L1939.23,464.3 L1940.98,464.3 L1942.73,464.3 L1944.48,464.3 L1946.22,464.3 L1947.97,464.3 L1949.72,464.3 L1951.47,464.3 L1953.21,464.3 L1954.96,464.3 L1956.71,464.3 L1958.46,464.3 L1960.21,464.3 L1961.95,464.3 L1963.7,464.3 L1965.45,464.3 L1967.2,464.3 L1968.94,464.3 L1970.69,464.3 L1972.44,464.3 L1974.19,464.3 L1975.94,464.3 L1977.68,464.3 L1979.43,464.3 L1981.18,464.3 L1982.93,464.3 L1984.67,464.3 L1986.42,464.3 L1988.17,464.3 L1989.92,464.3 L1991.67,464.3 L1993.41,464.3 L1995.16,464.3 L1996.91,464.3 L1998.66,464.3 L2000.4,464.3 L2002.15,464.3 L2003.9,464.3 L2005.65,464.3 L2007.4,464.3 L2009.14,464.3 L2010.89,464.3 L2012.64,464.3 L2014.39,464.3 L2016.14,464.3 L2017.88,464.3 L2019.63,464.3 L2021.38,464.3 L2023.13,464.3 L2024.87,464.3 L2026.62,464.3 L2028.37,464.3 L2030.12,464.3 L2031.87,464.3 L2033.61,464.3 L2035.36,464.3 L2037.11,464.3 L2038.86,464.3 L2040.6,464.3 L2042.35,464.3 L2044.1,464.3" fill="none" stroke="#424242" stroke-width="3.9" stroke-linejoin="round"/>
<path d="M1170.2,464.3 L1171.95,464.3 L1173.7,464.3 L1175.44,464.3 L1177.19,464.3 L1178.94,464.3 L1180.69,464.3 L1182.43,464.3 L1184.18,464.3 L1185.93,464.3 L1187.68,464.3 L1189.43,464.3 L1191.17,464.3 L1192.92,464.3 L1194.67,464.3 L1196.42,464.3 L1198.16,464.3 L1199.91,464.3 L1201.66,464.3 L1203.41,464.3 L1205.16,464.3 L1206.9,464.3 L1208.65,464.3 L1210.4,464.3 L1212.15,464.3 L1213.89,464.3 L1215.64,464.3 L1217.39,464.3 L1219.14,464.3 L1220.89,464.3 L1222.63,464.3 L1224.38,464.3 L1226.13,464.3 L1227.88,464.3 L1229.63,464.3 L1231.37,464.3 L1233.12,464.3 L1234.87,464.3 L1236.62,464.3 L1238.36,464.3 L1240.11,464.3 L1241.86,464.3 L1243.61,464.3 L1245.36,464.3 L1247.1,464.3 L1248.85,464.3 L1250.6,464.3 L1252.35,464.3 L1254.09,464.3 L1255.84,464.3 L1257.59,464.3 L1259.34,464.3 L1261.09,464.3 L1262.83,464.3 L1264.58,464.3 L1266.33,464.3 L1268.08,464.3 L1269.82,464.3 L1271.57,464.3 L1273.32,464.3 L1275.07,464.3 L1276.82,464.3 L1278.56,464.3 L1280.31,464.3 L1282.06,464.3 L1283.81,464.3 L1285.55,464.3 L1287.3,464.3 L1289.05,464.3 L1290.8,464.3 L1292.55,464.3 L1294.29,464.3 L1296.04,464.3 L1297.79,464.3 L1299.54,464.3 L1301.29,464.3 L1303.03,464.3 L1304.78,464.3 L1306.53,464.3 L1308.28,464.3 L1310.02,464.3 L1311.77,464.3 L1313.52,464.3 L1315.27,464.3 L1317.02,464.3 L1318.76,464.3 L1320.51,464.3 L1322.26,464.3 L1324.01,464.3 L1325.75,464.3 L1327.5,464.3 L1329.25,464.3 L1331,464.3 L1332.75,464.3 L1334.49,464.3 L1336.24,464.3 L1337.99,464.3 L1339.74,464.3 L1341.48,464.3 L1343.23,464.3 L1344.98,464.3 L1346.73,464.3 L1348.48,464.3 L1350.22,464.3 L1351.97,464.3 L1353.72,464.3 L1355.47,464.3 L1357.21,464.3 L1358.96,464.3 L1360.71,464.3 L1362.46,464.3 L1364.21,464.3 L1365.95,464.3 L1367.7,464.3 L1369.45,464.3 L1371.2,464.3 L1372.94,464.3 L1374.69,464.3 L1376.44,464.3 L1378.19,464.3 L1379.94,464.3 L1381.68,464.3 L1383.43,464.3 L1385.18,464.3 L1386.93,464.3 L1388.67,464.3 L1390.42,464.3 L1392.17,464.3 L1393.92,464.3 L1395.67,464.3 L1397.41,464.3 L1399.16,464.3 L1400.91,464.3 L1402.66,464.3 L1404.41,464.3 L1406.15,464.3 L1407.9,464.3 L1409.65,464.3 L1411.4,464.3 L1413.14,464.3 L1414.89,464.3 L1416.64,464.3 L1418.39,464.3 L1420.14,464.3 L1421.88,464.3 L1423.63,464.3 L1425.38,464.3 L1427.13,464.3 L1428.87,464.3 L1430.62,464.3 L1432.37,464.3 L1434.12,464.3 L1435.87,464.3 L1437.61,464.3 L1439.36,464.3 L1441.11,464.3 L1442.86,464.3 L1444.6,464.3 L1446.35,464.3 L1448.1,464.3 L1449.85,464.3 L1451.6,464.3 L1453.34,464.3 L1455.09,464.3 L1456.84,464.3 L1458.59,464.3 L1460.33,464.3 L1462.08,464.3 L1463.83,464.3 L1465.58,464.3 L1467.33,464.3 L1469.07,464.3 L1470.82,464.3 L1472.57,464.3 L1474.32,464.3 L1476.07,464.3 L1477.81,464.3 L1479.56,464.3 L1481.31,464.3 L1483.06,464.3 L1484.8,464.3 L1486.55,464.3 L1488.3,464.3 L1490.05,464.3 L1491.8,464.3 L1493.54,464.3 L1495.29,464.3 L1497.04,464.3 L1498.79,464.29 L1500.53,464.29 L1502.28,464.29 L1504.03,464.29 L1505.78,464.29 L1507.53,464.29 L1509.27,464.29 L1511.02,464.28 L1512.77,464.28 L1514.52,464.28 L1516.26,464.27 L1518.01,464.27 L1519.76,464.26 L1521.51,464.26 L1523.26,464.25 L1525,464.24 L1526.75,464.23 L1528.5,464.22 L1530.25,464.21 L1531.99,464.2 L1533.74,464.18 L1535.49,464.17 L1537.24,464.15 L1538.99,464.12 L1540.73,464.1 L1542.48,464.07 L1544.23,464.03 L1545.98,464 L1547.72,463.95 L1549.47,463.91 L1551.22,463.85 L1552.97,463.79 L1554.72,463.72 L1556.46,463.64 L1558.21,463.56 L1559.96,463.46 L1561.71,463.35 L1563.45,463.23 L1565.2,463.09 L1566.95,462.94 L1568.7,462.77 L1570.45,462.59 L1572.19,462.38 L1573.94,462.15 L1575.69,461.89 L1577.44,461.61 L1579.19,461.3 L1580.93,460.95 L1582.68,460.57 L1584.43,460.16 L1586.18,459.7 L1587.92,459.19 L1589.67,458.64 L1591.42,458.04 L1593.17,457.38 L1594.92,456.66 L1596.66,455.87 L1598.41,455.02 L1600.16,454.09 L1601.91,453.08 L1603.65,451.98 L1605.4,450.8 L1607.15,449.52 L1608.9,448.14 L1610.65,446.65 L1612.39,445.04 L1614.14,443.32 L1615.89,441.47 L1617.64,439.48 L1619.38,437.35 L1621.13,435.08 L1622.88,432.65 L1624.63,430.07 L1626.38,427.31 L1628.12,424.38 L1629.87,421.27 L1631.62,417.98 L1633.37,414.49 L1635.11,410.8 L1636.86,406.91 L1638.61,402.81 L1640.36,398.5 L1642.11,393.97 L1643.85,389.21 L1645.6,384.23 L1647.35,379.03 L1649.1,373.59 L1650.85,367.93 L1652.59,362.03 L1654.34,355.9 L1656.09,349.54 L1657.84,342.95 L1659.58,336.14 L1661.33,329.11 L1663.08,321.87 L1664.83,314.42 L1666.58,306.77 L1668.32,298.92 L1670.07,290.89 L1671.82,282.69 L1673.57,274.33 L1675.31,265.83 L1677.06,257.19 L1678.81,248.44 L1680.56,239.58 L1682.31,230.64 L1684.05,221.64 L1685.8,212.6 L1687.55,203.53 L1689.3,194.46 L1691.04,185.4 L1692.79,176.39 L1694.54,167.44 L1696.29,158.59 L1698.04,149.84 L1699.78,141.24 L1701.53,132.79 L1703.28,124.54 L1705.03,116.49 L1706.77,108.69 L1708.52,101.14 L1710.27,93.88 L1712.02,86.92 L1713.77,80.3 L1715.51,74.03 L1717.26,68.13 L1719.01,62.62 L1720.76,57.53 L1722.5,52.87 L1724.25,48.65 L1726,44.89 L1727.75,41.61 L1729.5,38.81 L1731.24,36.5 L1732.99,34.7 L1734.74,33.41 L1736.49,32.64 L1738.23,32.38 L1739.98,32.64 L1741.73,33.41 L1743.48,34.7 L1745.23,36.5 L1746.97,38.81 L1748.72,41.61 L1750.47,44.89 L1752.22,48.65 L1753.97,52.87 L1755.71,57.53 L1757.46,62.62 L1759.21,68.13 L1760.96,74.03 L1762.7,80.3 L1764.45,86.92 L1766.2,93.88 L1767.95,101.14 L1769.7,108.69 L1771.44,116.49 L1773.19,124.54 L1774.94,132.79 L1776.69,141.24 L1778.43,149.84 L1780.18,158.59 L1781.93,167.44 L1783.68,176.39 L1785.43,185.4 L1787.17,194.46 L1788.92,203.53 L1790.67,212.6 L1792.42,221.64 L1794.16,230.64 L1795.91,239.58 L1797.66,248.44 L1799.41,257.19 L1801.16,265.83 L1802.9,274.33 L1804.65,282.69 L1806.4,290.89 L1808.15,298.92 L1809.89,306.77 L1811.64,314.42 L1813.39,321.87 L1815.14,329.11 L1816.89,336.14 L1818.63,342.95 L1820.38,349.54 L1822.13,355.9 L1823.88,362.03 L1825.62,367.93 L1827.37,373.59 L1829.12,379.03 L1830.87,384.23 L1832.62,389.21 L1834.36,393.97 L1836.11,398.5 L1837.86,402.81 L1839.61,406.91 L1841.36,410.8 L1843.1,414.49 L1844.85,417.98 L1846.6,421.27 L1848.35,424.38 L1850.09,427.31 L1851.84,430.07 L1853.59,432.65 L1855.34,435.08 L1857.09,437.35 L1858.83,439.48 L1860.58,441.47 L1862.33,443.32 L1864.08,445.04 L1865.82,446.65 L1867.57,448.14 L1869.32,449.52 L1871.07,450.8 L1872.82,451.98 L1874.56,453.08 L1876.31,454.09 L1878.06,455.02 L1879.81,455.87 L1881.55,456.66 L1883.3,457.38 L1885.05,458.04 L1886.8,458.64 L1888.55,459.19 L1890.29,459.7 L1892.04,460.16 L1893.79,460.57 L1895.54,460.95 L1897.28,461.3 L1899.03,461.61 L1900.78,461.89 L1902.53,462.15 L1904.28,462.38 L1906.02,462.59 L1907.77,462.77 L1909.52,462.94 L1911.27,463.09 L1913.01,463.23 L1914.76,463.35 L1916.51,463.46 L1918.26,463.56 L1920.01,463.64 L1921.75,463.72 L1923.5,463.79 L1925.25,463.85 L1927,463.91 L1928.75,463.95 L1930.49,464 L1932.24,464.03 L1933.99,464.07 L1935.74,464.1 L1937.48,464.12 L1939.23,464.15 L1940.98,464.17 L1942.73,464.18 L1944.48,464.2 L1946.22,464.21 L1947.97,464.22 L1949.72,464.23 L1951.47,464.24 L1953.21,464.25 L1954.96,464.26 L1956.71,464.26 L1958.46,464.27 L1960.21,464.27 L1961.95,464.28 L1963.7,464.28 L1965.45,464.28 L1967.2,464.29 L1968.94,464.29 L1970.69,464.29 L1972.44,464.29 L1974.19,464.29 L1975.94,464.29 L1977.68,464.29 L1979.43,464.3 L1981.18,464.3 L1982.93,464.3 L1984.67,464.3 L1986.42,464.3 L1988.17,464.3 L1989.92,464.3 L1991.67,464.3 L1993.41,464.3 L1995.16,464.3 L1996.91,464.3 L1998.66,464.3 L2000.4,464.3 L2002.15,464.3 L2003.9,464.3 L2005.65,464.3 L2007.4,464.3 L2009.14,464.3 L2010.89,464.3 L2012.64,464.3 L2014.39,464.3 L2016.14,464.3 L2017.88,464.3 L2019.63,464.3 L2021.38,464.3 L2023.13,464.3 L2024.87,464.3 L2026.62,464.3 L2028.37,464.3 L2030.12,464.3 L2031.87,464.3 L2033.61,464.3 L2035.36,464.3 L2037.11,464.3 L2038.86,464.3 L2040.6,464.3 L2042.35,464.3 L2044.1,464.3" fill="none" stroke="#424242" stroke-width="3.9" stroke-linejoin="round"/>
<path d="M1170.2,461.86 L1171.95,461.76 L1173.7,461.66 L1175.44,461.56 L1177.19,461.45 L1178.94,461.34 L1180.69,461.23 L1182.43,461.11 L1184.18,460.98 L1185.93,460.86 L1187.68,460.73 L1189.43,460.59 L1191.17,460.45 L1192.92,460.31 L1194.67,460.16 L1196.42,460.01 L1198.16,459.85 L1199.91,459.68 L1201.66,459.51 L1203.41,459.34 L1205.16,459.16 L1206.9,458.97 L1208.65,458.78 L1210.4,458.58 L1212.15,458.38 L1213.89,458.17 L1215.64,457.95 L1217.39,457.73 L1219.14,457.5 L1220.89,457.26 L1222.63,457.02 L1224.38,456.77 L1226.13,456.51 L1227.88,456.24 L1229.63,455.96 L1231.37,455.68 L1233.12,455.39 L1234.87,455.09 L1236.62,454.78 L1238.36,454.47 L1240.11,454.14 L1241.86,453.81 L1243.61,453.46 L1245.36,453.11 L1247.1,452.74 L1248.85,452.37 L1250.6,451.99 L1252.35,451.59 L1254.09,451.19 L1255.84,450.77 L1257.59,450.35 L1259.34,449.91 L1261.09,449.46 L1262.83,449 L1264.58,448.53 L1266.33,448.04 L1268.08,447.54 L1269.82,447.03 L1271.57,446.51 L1273.32,445.98 L1275.07,445.43 L1276.82,444.87 L1278.56,444.29 L1280.31,443.7 L1282.06,443.1 L1283.81,442.48 L1285.55,441.85 L1287.3,441.2 L1289.05,440.54 L1290.8,439.86 L1292.55,439.17 L1294.29,438.46 L1296.04,437.74 L1297.79,436.99 L1299.54,436.24 L1301.29,435.47 L1303.03,434.68 L1304.78,433.87 L1306.53,433.05 L1308.28,432.2 L1310.02,431.35 L1311.77,430.47 L1313.52,429.58 L1315.27,428.66 L1317.02,427.73 L1318.76,426.78 L1320.51,425.81 L1322.26,424.83 L1324.01,423.82 L1325.75,422.8 L1327.5,421.75 L1329.25,420.69 L1331,419.61 L1332.75,418.5 L1334.49,417.38 L1336.24,416.24 L1337.99,415.07 L1339.74,413.89 L1341.48,412.68 L1343.23,411.46 L1344.98,410.21 L1346.73,408.95 L1348.48,407.66 L1350.22,406.35 L1351.97,405.02 L1353.72,403.67 L1355.47,402.3 L1357.21,400.9 L1358.96,399.49 L1360.71,398.05 L1362.46,396.6 L1364.21,395.12 L1365.95,393.62 L1367.7,392.1 L1369.45,390.56 L1371.2,388.99 L1372.94,387.41 L1374.69,385.8 L1376.44,384.18 L1378.19,382.53 L1379.94,380.86 L1381.68,379.17 L1383.43,377.46 L1385.18,375.73 L1386.93,373.97 L1388.67,372.2 L1390.42,370.41 L1392.17,368.6 L1393.92,366.76 L1395.67,364.91 L1397.41,363.04 L1399.16,361.15 L1400.91,359.24 L1402.66,357.31 L1404.41,355.36 L1406.15,353.4 L1407.9,351.41 L1409.65,349.41 L1411.4,347.39 L1413.14,345.36 L1414.89,343.3 L1416.64,341.23 L1418.39,339.15 L1420.14,337.05 L1421.88,334.93 L1423.63,332.8 L1425.38,330.66 L1427.13,328.5 L1428.87,326.33 L1430.62,324.14 L1432.37,321.94 L1434.12,319.73 L1435.87,317.51 L1437.61,315.28 L1439.36,313.03 L1441.11,310.78 L1442.86,308.52 L1444.6,306.25 L1446.35,303.97 L1448.1,301.68 L1449.85,299.38 L1451.6,297.08 L1453.34,294.77 L1455.09,292.46 L1456.84,290.14 L1458.59,287.82 L1460.33,285.5 L1462.08,283.17 L1463.83,280.84 L1465.58,278.51 L1467.33,276.18 L1469.07,273.85 L1470.82,271.53 L1472.57,269.2 L1474.32,266.87 L1476.07,264.55 L1477.81,262.23 L1479.56,259.92 L1481.31,257.61 L1483.06,255.31 L1484.8,253.02 L1486.55,250.73 L1488.3,248.46 L1490.05,246.19 L1491.8,243.93 L1493.54,241.68 L1495.29,239.45 L1497.04,237.23 L1498.79,235.02 L1500.53,232.83 L1502.28,230.65 L1504.03,228.49 L1505.78,226.34 L1507.53,224.21 L1509.27,222.1 L1511.02,220.01 L1512.77,217.94 L1514.52,215.89 L1516.26,213.86 L1518.01,211.86 L1519.76,209.88 L1521.51,207.92 L1523.26,205.99 L1525,204.08 L1526.75,202.2 L1528.5,200.35 L1530.25,198.52 L1531.99,196.73 L1533.74,194.96 L1535.49,193.22 L1537.24,191.52 L1538.99,189.85 L1540.73,188.2 L1542.48,186.6 L1544.23,185.02 L1545.98,183.48 L1547.72,181.98 L1549.47,180.51 L1551.22,179.08 L1552.97,177.68 L1554.72,176.33 L1556.46,175.01 L1558.21,173.73 L1559.96,172.49 L1561.71,171.29 L1563.45,170.13 L1565.2,169.01 L1566.95,167.94 L1568.7,166.9 L1570.45,165.91 L1572.19,164.96 L1573.94,164.06 L1575.69,163.2 L1577.44,162.38 L1579.19,161.61 L1580.93,160.88 L1582.68,160.2 L1584.43,159.56 L1586.18,158.97 L1587.92,158.43 L1589.67,157.93 L1591.42,157.48 L1593.17,157.07 L1594.92,156.72 L1596.66,156.41 L1598.41,156.14 L1600.16,155.93 L1601.91,155.76 L1603.65,155.64 L1605.4,155.57 L1607.15,155.55 L1608.9,155.57 L1610.65,155.64 L1612.39,155.76 L1614.14,155.93 L1615.89,156.14 L1617.64,156.41 L1619.38,156.72 L1621.13,157.07 L1622.88,157.48 L1624.63,157.93 L1626.38,158.43 L1628.12,158.97 L1629.87,159.56 L1631.62,160.2 L1633.37,160.88 L1635.11,161.61 L1636.86,162.38 L1638.61,163.2 L1640.36,164.06 L1642.11,164.96 L1643.85,165.91 L1645.6,166.9 L1647.35,167.94 L1649.1,169.01 L1650.85,170.13 L1652.59,171.29 L1654.34,172.49 L1656.09,173.73 L1657.84,175.01 L1659.58,176.33 L1661.33,177.68 L1663.08,179.08 L1664.83,180.51 L1666.58,181.98 L1668.32,183.48 L1670.07,185.02 L1671.82,186.6 L1673.57,188.2 L1675.31,189.85 L1677.06,191.52 L1678.81,193.22 L1680.56,194.96 L1682.31,196.73 L1684.05,198.52 L1685.8,200.35 L1687.55,202.2 L1689.3,204.08 L1691.04,205.99 L1692.79,207.92 L1694.54,209.88 L1696.29,211.86 L1698.04,213.86 L1699.78,215.89 L1701.53,217.94 L1703.28,220.01 L1705.03,222.1 L1706.77,224.21 L1708.52,226.34 L1710.27,228.49 L1712.02,230.65 L1713.77,232.83 L1715.51,235.02 L1717.26,237.23 L1719.01,239.45 L1720.76,241.68 L1722.5,243.93 L1724.25,246.19 L1726,248.46 L1727.75,250.73 L1729.5,253.02 L1731.24,255.31 L1732.99,257.61 L1734.74,259.92 L1736.49,262.23 L1738.23,264.55 L1739.98,266.87 L1741.73,269.2 L1743.48,271.53 L1745.23,273.85 L1746.97,276.18 L1748.72,278.51 L1750.47,280.84 L1752.22,283.17 L1753.97,285.5 L1755.71,287.82 L1757.46,290.14 L1759.21,292.46 L1760.96,294.77 L1762.7,297.08 L1764.45,299.38 L1766.2,301.68 L1767.95,303.97 L1769.7,306.25 L1771.44,308.52 L1773.19,310.78 L1774.94,313.03 L1776.69,315.28 L1778.43,317.51 L1780.18,319.73 L1781.93,321.94 L1783.68,324.14 L1785.43,326.33 L1787.17,328.5 L1788.92,330.66 L1790.67,332.8 L1792.42,334.93 L1794.16,337.05 L1795.91,339.15 L1797.66,341.23 L1799.41,343.3 L1801.16,345.36 L1802.9,347.39 L1804.65,349.41 L1806.4,351.41 L1808.15,353.4 L1809.89,355.36 L1811.64,357.31 L1813.39,359.24 L1815.14,361.15 L1816.89,363.04 L1818.63,364.91 L1820.38,366.76 L1822.13,368.6 L1823.88,370.41 L1825.62,372.2 L1827.37,373.97 L1829.12,375.73 L1830.87,377.46 L1832.62,379.17 L1834.36,380.86 L1836.11,382.53 L1837.86,384.18 L1839.61,385.8 L1841.36,387.41 L1843.1,388.99 L1844.85,390.56 L1846.6,392.1 L1848.35,393.62 L1850.09,395.12 L1851.84,396.6 L1853.59,398.05 L1855.34,399.49 L1857.09,400.9 L1858.83,402.3 L1860.58,403.67 L1862.33,405.02 L1864.08,406.35 L1865.82,407.66 L1867.57,408.95 L1869.32,410.21 L1871.07,411.46 L1872.82,412.68 L1874.56,413.89 L1876.31,415.07 L1878.06,416.24 L1879.81,417.38 L1881.55,418.5 L1883.3,419.61 L1885.05,420.69 L1886.8,421.75 L1888.55,422.8 L1890.29,423.82 L1892.04,424.83 L1893.79,425.81 L1895.54,426.78 L1897.28,427.73 L1899.03,428.66 L1900.78,429.58 L1902.53,430.47 L1904.28,431.35 L1906.02,432.2 L1907.77,433.05 L1909.52,433.87 L1911.27,434.68 L1913.01,435.47 L1914.76,436.24 L1916.51,436.99 L1918.26,437.74 L1920.01,438.46 L1921.75,439.17 L1923.5,439.86 L1925.25,440.54 L1927,441.2 L1928.75,441.85 L1930.49,442.48 L1932.24,443.1 L1933.99,443.7 L1935.74,444.29 L1937.48,444.87 L1939.23,445.43 L1940.98,445.98 L1942.73,446.51 L1944.48,447.03 L1946.22,447.54 L1947.97,448.04 L1949.72,448.53 L1951.47,449 L1953.21,449.46 L1954.96,449.91 L1956.71,450.35 L1958.46,450.77 L1960.21,451.19 L1961.95,451.59 L1963.7,451.99 L1965.45,452.37 L1967.2,452.74 L1968.94,453.11 L1970.69,453.46 L1972.44,453.81 L1974.19,454.14 L1975.94,454.47 L1977.68,454.78 L1979.43,455.09 L1981.18,455.39 L1982.93,455.68 L1984.67,455.96 L1986.42,456.24 L1988.17,456.51 L1989.92,456.77 L1991.67,457.02 L1993.41,457.26 L1995.16,457.5 L1996.91,457.73 L1998.66,457.95 L2000.4,458.17 L2002.15,458.38 L2003.9,458.58 L2005.65,458.78 L2007.4,458.97 L2009.14,459.16 L2010.89,459.34 L2012.64,459.51 L2014.39,459.68 L2016.14,459.85 L2017.88,460.01 L2019.63,460.16 L2021.38,460.31 L2023.13,460.45 L2024.87,460.59 L2026.62,460.73 L2028.37,460.86 L2030.12,460.98 L2031.87,461.11 L2033.61,461.23 L2035.36,461.34 L2037.11,461.45 L2038.86,461.56 L2040.6,461.66 L2042.35,461.76 L2044.1,461.86" fill="none" stroke="#000" stroke-width="4.0" stroke-linejoin="round"/>
<path d="M1170.2,463.8 H1570.45 M1643.85,463.8 H2044.1" fill="none" stroke="#111111" stroke-width="2.4"/>
</g>
<rect x="1170.2" y="27.4" width="873.9" height="436.9" fill="none" stroke="#4a4a4a" stroke-width="1.7"/>
<path d="M1257.59,464.3 v-9.5 M1257.59,27.4 v9.5 M1344.98,464.3 v-9.5 M1344.98,27.4 v9.5 M1432.37,464.3 v-9.5 M1432.37,27.4 v9.5 M1519.76,464.3 v-9.5 M1519.76,27.4 v9.5 M1607.15,464.3 v-9.5 M1607.15,27.4 v9.5 M1694.54,464.3 v-9.5 M1694.54,27.4 v9.5 M1781.93,464.3 v-9.5 M1781.93,27.4 v9.5 M1869.32,464.3 v-9.5 M1869.32,27.4 v9.5 M1956.71,464.3 v-9.5 M1956.71,27.4 v9.5" stroke="#383838" stroke-width="1.4" fill="none"/>
<path d="M1170.2,401.99 h8.7 M2044.1,401.99 h-8.9 M1170.2,339.57 h8.7 M2044.1,339.57 h-8.9 M1170.2,277.16 h8.7 M2044.1,277.16 h-8.9 M1170.2,214.74 h8.7 M2044.1,214.74 h-8.9 M1170.2,152.33 h8.7 M2044.1,152.33 h-8.9 M1170.2,89.91 h8.7 M2044.1,89.91 h-8.9" stroke="#505050" stroke-width="1.8" fill="none"/>
<g class="t">
<text transform="translate(1166.6,487.4) rotate(0.03) scale(0.96,1)" text-anchor="middle">-5</text>
<text transform="translate(1253.99,487.4) rotate(0.03) scale(0.96,1)" text-anchor="middle">-4</text>
<text transform="translate(1341.38,487.4) rotate(0.03) scale(0.96,1)" text-anchor="middle">-3</text>
<text transform="translate(1428.77,487.4) rotate(0.03) scale(0.96,1)" text-anchor="middle">-2</text>
<text transform="translate(1516.16,487.4) rotate(0.03) scale(0.96,1)" text-anchor="middle">-1</text>
<text transform="translate(1607.35,487.4) rotate(0.03) scale(0.96,1)" text-anchor="middle">0</text>
<text transform="translate(1694.74,487.4) rotate(0.03) scale(0.96,1)" text-anchor="middle">1</text>
<text transform="translate(1782.13,487.4) rotate(0.03) scale(0.96,1)" text-anchor="middle">2</text>
<text transform="translate(1869.52,487.4) rotate(0.03) scale(0.96,1)" text-anchor="middle">3</text>
<text transform="translate(1956.91,487.4) rotate(0.03) scale(0.96,1)" text-anchor="middle">4</text>
<text transform="translate(2044.3,487.4) rotate(0.03) scale(0.96,1)" text-anchor="middle">5</text>
<text transform="translate(1164.45,471.25) rotate(0.03) scale(0.96,1)" text-anchor="end">0</text>
<text transform="translate(1164.35,408.84) rotate(0.03) scale(0.96,1)" text-anchor="end">0.05</text>
<text transform="translate(1164.35,346.42) rotate(0.03) scale(0.96,1)" text-anchor="end">0.1</text>
<text transform="translate(1164.35,284.01) rotate(0.03) scale(0.96,1)" text-anchor="end">0.15</text>
<text transform="translate(1164.35,221.59) rotate(0.03) scale(0.96,1)" text-anchor="end">0.2</text>
<text transform="translate(1164.35,159.18) rotate(0.03) scale(0.96,1)" text-anchor="end">0.25</text>
<text transform="translate(1164.35,96.76) rotate(0.03) scale(0.96,1)" text-anchor="end">0.3</text>
<text transform="translate(1164.35,34.35) rotate(0.03) scale(0.96,1)" text-anchor="end">0.35</text>
<text transform="translate(1113.6,246.75) rotate(-89.97) scale(0.978,1)" text-anchor="middle" font-size="19.6">PDF</text>
<text transform="translate(1057.4,45.8) rotate(0.03)" font-size="40.6" style="stroke:none">(</text>
<text transform="translate(1070.8,45.8) rotate(0.03)" font-size="40.6" style="stroke:none">b</text>
<text transform="translate(1094,45.8) rotate(0.03)" font-size="40.6" style="stroke:none">)</text>
</g>
</svg>
</body></html>
